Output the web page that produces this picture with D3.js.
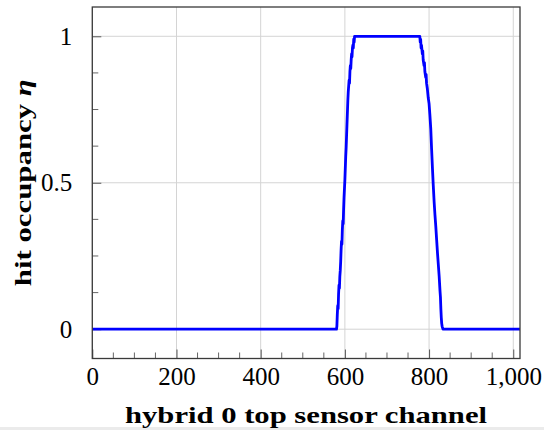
<!DOCTYPE html>
<html>
<head>
<meta charset="utf-8">
<script src="https://cdn.jsdelivr.net/npm/d3@7"></script>
<style>
  html, body { margin: 0; padding: 0; background: #fff; }
  svg { display: block; }
  text { font-family: "Liberation Serif", "Times New Roman", serif; fill: #000; }
</style>
</head>
<body>
<script>
// Hit occupancy per channel of the hybrid 0 top sensor
const channel = [
  0, 580, 581, 582, 583, 584, 585, 586, 587, 588, 589, 590, 591, 592, 593, 594, 595, 596,
  597, 598, 599, 600, 601, 602, 603, 604, 605, 606, 607, 608, 609, 610, 611, 612, 613, 614,
  615, 616, 617, 618, 619, 620, 621, 622, 623, 625,
  776, 778, 779, 780, 781, 782, 784, 785, 786, 788, 789, 790, 792, 793, 794, 796, 798, 800,
  802, 804, 806, 808, 810, 812, 814, 816, 818, 820, 822, 824, 826, 827, 828, 829, 830, 831,
  833, 1016
];
const occupancy = [
  0, 0, 0.01, 0.05, 0.08, 0.07, 0.12, 0.15, 0.14, 0.18, 0.20, 0.23, 0.27, 0.30, 0.29, 0.34, 0.37, 0.36,
  0.41, 0.45, 0.48, 0.51, 0.55, 0.59, 0.62, 0.66, 0.70, 0.74, 0.78, 0.81, 0.83, 0.85, 0.84, 0.88, 0.90, 0.89,
  0.92, 0.94, 0.93, 0.96, 0.97, 0.96, 0.99, 0.98, 1.0, 1.0,
  1.0, 1.0, 0.98, 0.99, 0.96, 0.97, 0.94, 0.95, 0.92, 0.90, 0.91, 0.88, 0.86, 0.87, 0.84, 0.82, 0.79, 0.77,
  0.73, 0.685, 0.615, 0.55, 0.49, 0.435, 0.39, 0.35, 0.305, 0.26, 0.22, 0.18, 0.13, 0.11, 0.07, 0.04, 0.02, 0.01,
  0, 0
];

const xTicks = [0, 200, 400, 600, 800, 1000];
const xMinorTicks = [50, 100, 150, 250, 300, 350, 450, 500, 550, 650, 700, 750, 850, 900, 950];
const yTicks = [0, 0.5, 1];
const yMinorTicks = [0.125, 0.25, 0.375, 0.625, 0.75, 0.875];
const xLabel = "hybrid 0 top sensor channel";
const yLabel = "hit occupancy ";
const yLabelSymbol = "η";

const W = 544, H = 430;
const plot = { left: 92.3, right: 520, top: 7, bottom: 358.5 };

const svg = d3.select("body").append("svg")
  .attr("width", W).attr("height", H);

// thin grey strip along the bottom edge
svg.append("rect").attr("x", 0).attr("y", 427).attr("width", W).attr("height", 3)
  .attr("fill", "#ebebeb");

const x = d3.scaleLinear().domain([0, 1016]).range([plot.left, plot.right]);
const y = d3.scaleLinear().domain([-0.1, 1.1]).range([plot.bottom, plot.top]);

// grid
const grid = svg.append("g").attr("stroke", "#d4d4d4").attr("stroke-width", 1);
grid.selectAll(".gx").data(xTicks).join("line")
  .attr("x1", d => x(d)).attr("x2", d => x(d))
  .attr("y1", plot.top).attr("y2", plot.bottom);
grid.selectAll(".gy").data(yTicks).join("line")
  .attr("x1", plot.left).attr("x2", plot.right)
  .attr("y1", d => y(d)).attr("y2", d => y(d));

// inward ticks on the bottom and left axes
const xAxis = d3.axisBottom(x).tickValues(xTicks).tickSizeInner(-9).tickSizeOuter(0)
  .tickPadding(9).tickFormat(d3.format(","));
const gx = svg.append("g").attr("transform", `translate(0,${plot.bottom})`).call(xAxis);
gx.select(".domain").remove();
gx.selectAll(".tick line").attr("stroke", "#555");
gx.selectAll("text").attr("font-size", 25).attr("font-family", "Liberation Serif");
gx.selectAll(".minor").data(xMinorTicks).join("line")
  .attr("class", "minor")
  .attr("x1", d => x(d)).attr("x2", d => x(d))
  .attr("y1", 0).attr("y2", -6).attr("stroke", "#666");

const yAxis = d3.axisLeft(y).tickValues(yTicks).tickSizeInner(-9).tickSizeOuter(0)
  .tickPadding(20).tickFormat(d => d === 0.5 ? "0.5" : d3.format("d")(d));
const gy = svg.append("g").attr("transform", `translate(${plot.left},0)`).call(yAxis);
gy.select(".domain").remove();
gy.selectAll(".tick line").attr("stroke", "#555");
gy.selectAll("text").attr("font-size", 25).attr("font-family", "Liberation Serif");
gy.selectAll(".minor").data(yMinorTicks).join("line")
  .attr("class", "minor")
  .attr("x1", 0).attr("x2", 6)
  .attr("y1", d => y(d)).attr("y2", d => y(d)).attr("stroke", "#666");

// data curve
const pts = channel.map((c, i) => [c, occupancy[i]]);
svg.append("path").datum(pts)
  .attr("fill", "none").attr("stroke", "#0000ff").attr("stroke-width", 2.8)
  .attr("stroke-linejoin", "round")
  .attr("d", d3.line().x(d => x(d[0])).y(d => y(d[1])));

// frame
svg.append("rect")
  .attr("x", plot.left).attr("y", plot.top)
  .attr("width", plot.right - plot.left).attr("height", plot.bottom - plot.top)
  .attr("fill", "none").attr("stroke", "#3a3a3a").attr("stroke-width", 1.3);

// axis labels (wide bold serif)
svg.append("text")
  .attr("x", 306).attr("y", 423)
  .attr("text-anchor", "middle").attr("font-weight", "bold").attr("font-size", 24)
  .attr("textLength", 362).attr("lengthAdjust", "spacingAndGlyphs")
  .text(xLabel);

const yl = svg.append("text")
  .attr("transform", `translate(31,${y(0.5)}) rotate(-90)`)
  .attr("text-anchor", "middle").attr("font-weight", "bold").attr("font-size", 24)
  .attr("textLength", 207).attr("lengthAdjust", "spacingAndGlyphs");
yl.append("tspan").text(yLabel);
yl.append("tspan").attr("font-style", "italic").text(yLabelSymbol);
</script>
</body>
</html>
